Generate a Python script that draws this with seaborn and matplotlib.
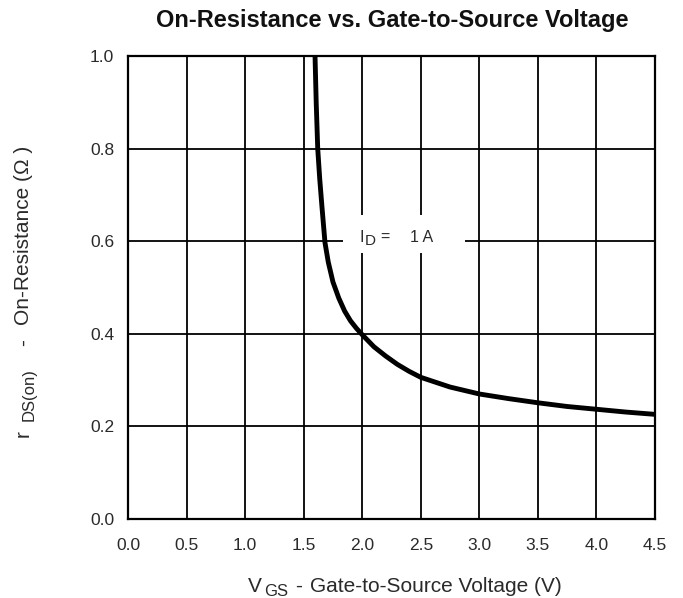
import matplotlib
matplotlib.use("Agg")
import matplotlib.pyplot as plt
from matplotlib.patches import Rectangle
import seaborn as sns
import pandas as pd

# Data
vgs = [1.597, 1.607, 1.62, 1.637, 1.656, 1.682, 1.71, 1.75, 1.80, 1.85, 1.90, 1.95,
       2.0, 2.1, 2.2, 2.3, 2.4, 2.5, 2.75, 3.0, 3.25, 3.5, 3.75, 4.0, 4.25, 4.5]
rds = [1.00, 0.90, 0.80, 0.735, 0.675, 0.597, 0.555, 0.512, 0.477, 0.449, 0.428, 0.412,
       0.398, 0.372, 0.352, 0.334, 0.319, 0.306, 0.285, 0.270, 0.260, 0.251, 0.243, 0.237, 0.231, 0.226]
xticks = [0.0, 0.5, 1.0, 1.5, 2.0, 2.5, 3.0, 3.5, 4.0, 4.5]
yticks = [0.0, 0.2, 0.4, 0.6, 0.8, 1.0]

df = pd.DataFrame({"vgs": vgs, "rds": rds})

sns.set_theme(style="white")
plt.rcParams["font.family"] = ["Liberation Sans", "DejaVu Sans"]
TXT = "#2a2a2a"

W, H = 683, 598
fig = plt.figure(figsize=(W/100, H/100), dpi=100)
ax = fig.add_axes([128/W, 1-519/H, (655-128)/W, (519-56)/H])

sns.lineplot(data=df, x="vgs", y="rds", ax=ax, color="black", linewidth=3.5,
             estimator=None, sort=False, zorder=3,
             solid_joinstyle="round", solid_capstyle="butt")

ax.set_xlim(0, 4.5)
ax.set_ylim(0, 1.0)
ax.set_xticks(xticks)
ax.set_yticks(yticks)
ax.set_xticklabels([f"{t:.1f}" for t in xticks], fontsize=12.5, color=TXT)
ax.set_yticklabels([f"{t:.1f}" for t in yticks], fontsize=12.5, color=TXT)
ax.tick_params(axis="x", length=0, pad=14)
ax.tick_params(axis="y", length=0, pad=10)
ax.grid(True, color="black", linewidth=1.3)
for s in ax.spines.values():
    s.set_color("black")
    s.set_linewidth(1.6)
    s.set_visible(True)
ax.set_xlabel("")
ax.set_ylabel("")

def px(x, y):
    return x / W, 1 - y / H

# x label: V_GS - Gate-to-Source Voltage (V)
kw = dict(color=TXT, rotation_mode="anchor")
fig.text(*px(248, 592), "V", fontsize=15, ha="left", va="baseline", **kw)
fig.text(*px(264, 596), "GS", fontsize=12, ha="left", va="baseline", **kw)
fig.text(*px(298.5, 592), "-", fontsize=15, ha="center", va="baseline", **kw)
fig.text(*px(310, 592), "Gate-to-Source Voltage (V)", fontsize=15, ha="left", va="baseline", **kw)

# y label: r_DS(on) - On-Resistance (Ω )
fig.text(*px(29, 437), "r", fontsize=15, ha="left", va="baseline", rotation=90, **kw)
fig.text(*px(34, 421), "DS(on)", fontsize=12, ha="left", va="baseline", rotation=90, **kw)
fig.text(*px(29, 343), "-", fontsize=15, ha="center", va="baseline", rotation=90, **kw)
fig.text(*px(29, 325), "On-Resistance (\u03a9 )", fontsize=15, ha="left", va="baseline",
         rotation=90, **kw)

# I_D = 1 A annotation with white background
ax.add_patch(Rectangle((1.836, 0.5745), 2.878 - 1.836, 0.6566 - 0.5745,
                       facecolor="white", edgecolor="none", zorder=2.5))
ax.text(1.981, 0.598, "I", fontsize=11.5, ha="left", va="baseline", color=TXT, zorder=4)
ax.text(2.024, 0.592, "D", fontsize=11, ha="left", va="baseline", color=TXT, zorder=4)
ax.text(2.152, 0.598, "=", fontsize=11.5, ha="left", va="baseline", color=TXT, zorder=4)
ax.text(2.408, 0.598, "1 A", fontsize=11.5, ha="left", va="baseline", color=TXT, zorder=4)

fig.text(*px(392, 20), "On-Resistance vs. Gate-to-Source Voltage",
         fontsize=17, fontweight="bold", ha="center", va="center", color="#111111")

fig.savefig("out.png", dpi=100)
